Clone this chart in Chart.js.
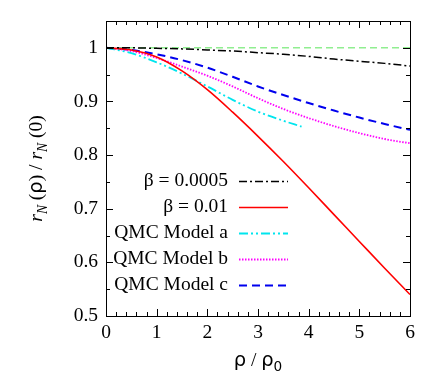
<!DOCTYPE html>
<html>
<head>
<meta charset="utf-8">
<script src="https://cdn.jsdelivr.net/npm/chart.js@4"></script>
<style>
  body { margin: 0; background: #fff; }
</style>
</head>
<body>
<canvas id="ratioGraph" width="436" height="390"></canvas>
<script>
// values
const xValues = [0, 0.5, 1, 1.5, 2, 2.5, 3, 3.5, 4, 4.5, 5, 5.5, 6];
const beta0005 = [1, 1, 0.999, 0.998, 0.996, 0.994, 0.991, 0.988, 0.984, 0.979, 0.975, 0.971, 0.966];
const beta001 = [1, 0.996, 0.983, 0.957, 0.922, 0.88, 0.835, 0.788, 0.739, 0.689, 0.639, 0.589, 0.54];
const modelAx = [0, 0.5, 1, 1.5, 2, 2.5, 3, 3.5, 3.86];
const modelA = [1, 0.99, 0.973, 0.952, 0.928, 0.903, 0.881, 0.864, 0.853];
const modelB = [1, 0.994, 0.981, 0.965, 0.948, 0.928, 0.906, 0.886, 0.869, 0.854, 0.841, 0.83, 0.822];
const modelC = [1, 0.996, 0.988, 0.977, 0.963, 0.946, 0.928, 0.912, 0.897, 0.883, 0.87, 0.858, 0.847];
const refX = [0, 6];
const refY = [1, 1];

const xTicks = [0, 1, 2, 3, 4, 5, 6];
const yTicks = [0.5, 0.6, 0.7, 0.8, 0.9, 1];

const serif = "'Liberation Serif', 'DejaVu Serif', serif";
const sans = "'DejaVu Sans', sans-serif";
const fontSize = 19.5;

function toPoints(xs, ys) {
    return ys.map((y, i) => ({ x: xs[i], y: y }));
}

const datasets = [
    { label: 'β = 0.0005', data: toPoints(xValues, beta0005), borderColor: '#000000', borderWidth: 1.5, borderDash: [8, 3, 2, 3] },
    { label: 'β = 0.01', data: toPoints(xValues, beta001), borderColor: '#ff0000', borderWidth: 1.6, borderDash: [] },
    { label: 'QMC Model a', data: toPoints(modelAx, modelA), borderColor: '#00e5ee', borderWidth: 1.8, borderDash: [9, 3, 2, 3, 2, 3] },
    { label: 'QMC Model b', data: toPoints(xValues, modelB), borderColor: '#ff00ff', borderWidth: 1.8, borderDash: [1.5, 1.5] },
    { label: 'QMC Model c', data: toPoints(xValues, modelC), borderColor: '#0000ee', borderWidth: 2, borderDash: [8, 5] },
    { label: '', data: toPoints(refX, refY), borderColor: '#90ee90', borderWidth: 1.6, borderDash: [7, 4], noLegend: true }
];
datasets.forEach(d => {
    d.fill = false;
    d.pointRadius = 0;
    d.cubicInterpolationMode = 'monotone';
});

// draw a string made of pieces (italic, subscript, sans rho)
function drawRich(ctx, parts, x, y, size) {
    let widths = [];
    let total = 0;
    parts.forEach(p => {
        const s = p.sub ? size * 0.7 : size;
        ctx.font = (p.italic ? 'italic ' : '') + s + 'px ' + (p.sans ? sans : serif);
        const w = ctx.measureText(p.t).width;
        widths.push(w);
        total += w;
    });
    let cx = x - total / 2;
    parts.forEach((p, i) => {
        const s = p.sub ? size * 0.7 : size;
        ctx.font = (p.italic ? 'italic ' : '') + s + 'px ' + (p.sans ? sans : serif);
        ctx.fillText(p.t, cx, y + (p.sub ? size * 0.28 : 0));
        cx += widths[i];
    });
}

const framePlugin = {
    id: 'frame',
    afterDraw(chart) {
        const ctx = chart.ctx;
        const a = chart.chartArea;
        const xs = chart.scales.x;
        const ys = chart.scales.y;
        ctx.save();
        ctx.strokeStyle = '#000';
        ctx.lineWidth = 1;
        ctx.setLineDash([]);
        ctx.strokeRect(a.left + 0.5, a.top + 0.5, a.right - a.left, a.bottom - a.top);

        ctx.beginPath();
        for (let v = 0; v <= 6.0001; v += 0.2) {
            const major = Math.abs(v - Math.round(v)) < 1e-6;
            const len = major ? 7 : 4;
            const px = Math.round(xs.getPixelForValue(v)) + 0.5;
            ctx.moveTo(px, a.bottom); ctx.lineTo(px, a.bottom - len);
            ctx.moveTo(px, a.top); ctx.lineTo(px, a.top + len);
        }
        for (let v = 0.5; v <= 1.05001; v += 0.05) {
            const major = Math.abs(v * 10 - Math.round(v * 10)) < 1e-6;
            const len = major ? 7 : 4;
            const py = Math.round(ys.getPixelForValue(v)) + 0.5;
            ctx.moveTo(a.left, py); ctx.lineTo(a.left + len, py);
            ctx.moveTo(a.right, py); ctx.lineTo(a.right - len, py);
        }
        ctx.stroke();

        ctx.fillStyle = '#000';
        ctx.textBaseline = 'alphabetic';
        ctx.textAlign = 'left';
        // x title
        drawRich(ctx, [
            { t: 'ρ', sans: true },
            { t: ' / ' },
            { t: 'ρ', sans: true },
            { t: '0', sans: true, sub: true }
        ], (a.left + a.right) / 2, 366, fontSize);

        // y title
        ctx.save();
        ctx.translate(42, (a.top + a.bottom) / 2);
        ctx.rotate(-Math.PI / 2);
        drawRich(ctx, [
            { t: 'r', italic: true },
            { t: 'N', italic: true, sub: true },
            { t: ' (' },
            { t: 'ρ', sans: true },
            { t: ') / ' },
            { t: 'r', italic: true },
            { t: 'N', italic: true, sub: true },
            { t: ' (0)' }
        ], 0, 0, fontSize);
        ctx.restore();

        // key
        ctx.font = fontSize + 'px ' + serif;
        ctx.textBaseline = 'middle';
        ctx.textAlign = 'right';
        let row = 0;
        chart.data.datasets.forEach(d => {
            if (d.noLegend) return;
            const y = a.top + 160 + row * 26;
            ctx.fillStyle = '#000';
            ctx.fillText(d.label, a.left + 122, y);
            ctx.strokeStyle = d.borderColor;
            ctx.lineWidth = d.borderWidth;
            ctx.setLineDash(d.borderDash);
            ctx.beginPath();
            ctx.moveTo(a.left + 133, y + 0.5);
            ctx.lineTo(a.left + 182, y + 0.5);
            ctx.stroke();
            row++;
        });
        ctx.restore();
    }
};

new Chart(ratioGraph, {
    type: 'line',
    data: { datasets: datasets },
    options: {
        responsive: false,
        animation: { duration: 0 },
        layout: { padding: { left: 56, right: 26, top: 21, bottom: 44 } },
        scales: {
            x: {
                type: 'linear',
                min: 0,
                max: 6,
                afterBuildTicks: function(axis) {
                    axis.ticks = xTicks.map(v => ({ value: v }));
                },
                afterFit: function(scale) { scale.height = 30; },
                ticks: {
                    color: '#000',
                    font: { family: serif, size: fontSize },
                    padding: 5,
                    maxRotation: 0,
                    callback: function(v) { return String(v); }
                },
                grid: { display: false, drawTicks: false },
                border: { display: false }
            },
            y: {
                type: 'linear',
                min: 0.5,
                max: 1.05,
                afterBuildTicks: function(axis) {
                    axis.ticks = yTicks.map(v => ({ value: v }));
                },
                afterFit: function(scale) { scale.width = 50; },
                ticks: {
                    color: '#000',
                    font: { family: serif, size: fontSize },
                    padding: 8,
                    callback: function(v) { return String(Math.round(v * 10) / 10); }
                },
                grid: { display: false, drawTicks: false },
                border: { display: false }
            }
        },
        plugins: {
            legend: { display: false },
            tooltip: { enabled: false }
        }
    },
    plugins: [framePlugin]
});
</script>
</body>
</html>
